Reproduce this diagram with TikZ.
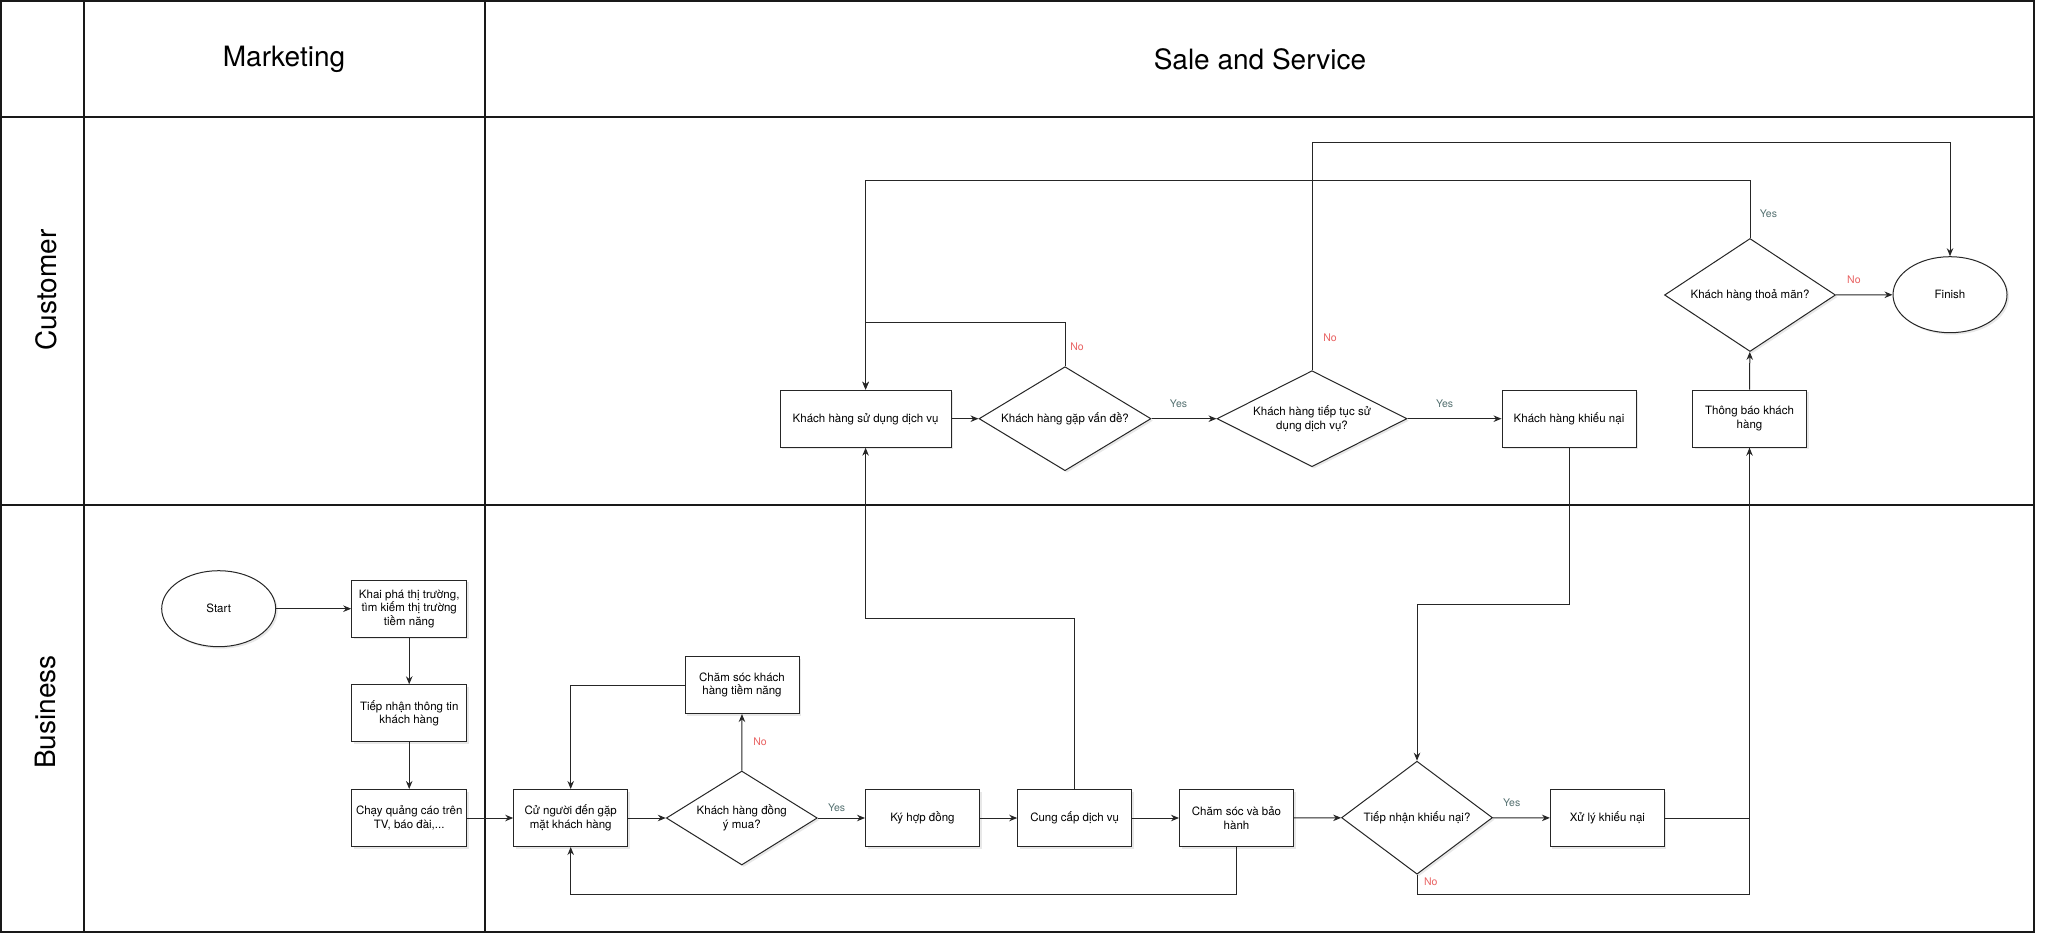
\documentclass[tikz,border=0pt]{standalone}
\usepackage{fontspec}
\setmainfont{TeX Gyre Heros}
\usetikzlibrary{shapes.geometric,arrows.meta,shadows}
\definecolor{yescol}{RGB}{84,112,112}
\definecolor{nocol}{RGB}{232,98,98}
\begin{document}
\begin{tikzpicture}[x=1pt,y=-1pt,
  lane/.style={line width=1.2pt,draw=black!90},
  box/.style={draw=black!85,line width=1pt,fill=white,minimum width=114pt,minimum height=57pt,
    inner sep=0pt,align=center,font=\fontsize{11.5}{13.5}\selectfont,
    drop shadow={opacity=0.18,shadow xshift=2pt,shadow yshift=-2pt}},
  oval/.style={box,ellipse,minimum height=76pt},
  choice/.style={box,diamond},
  flow/.style={draw=black!85,line width=1pt},
  arr/.style={flow,-{Stealth[length=8pt,width=6.5pt]}},
  head/.style={font=\fontsize{28}{32}\selectfont},
  yeslbl/.style={text=yescol,font=\fontsize{10.5}{12}\selectfont,inner sep=0pt},
  nolbl/.style={text=nocol,font=\fontsize{10.5}{12}\selectfont,inner sep=0pt}]
\useasboundingbox (0,0) rectangle (2047,944);
\draw [lane] (1,1) rectangle (2034,932);
\draw [lane] (84,1) -- (84,932);
\draw [lane] (485,1) -- (485,932);
\draw [lane] (1,117) -- (2034,117);
\draw [lane] (1,505) -- (2034,505);
\node [head] (hMkt) at (284,59) {Marketing};
\node [head] (hSale) at (1260,59) {Sale and Service};
\node [head,rotate=90] (lCust) at (46,290) {Customer};
\node [head,rotate=90] (lBus) at (46,712) {Business};
% business lane
\node [oval] (start) at (218.7,608.7) {Start};
\node [box,minimum width=115pt] (khai) at (409.2,608.7) {Khai phá thị trường,\\tìm kiếm thị trường\\tiềm năng};
\node [box,minimum width=115pt] (tiepTT) at (409.2,713.3) {Tiếp nhận thông tin\\khách hàng};
\node [box,minimum width=115pt] (chay) at (409.2,818) {Chạy quảng cáo trên\\TV, báo đài,...};
\node [box] (cuNguoi) at (570.7,818) {Cử người đến gặp\\mặt khách hàng};
\node [choice,minimum width=151pt,minimum height=94pt,aspect=1.6] (dongY) at (741.8,818) {Khách hàng đồng\\ý mua?};
\node [box] (chamTN) at (742,685) {Chăm sóc khách\\hàng tiềm năng};
\node [box] (kyHD) at (922.5,818) {Ký hợp đồng};
\node [box] (cungCap) at (1074.7,818) {Cung cấp dịch vụ};
\node [box] (chamBH) at (1236.5,818) {Chăm sóc và bảo\\hành};
\node [choice,minimum width=151pt,minimum height=113pt,aspect=1.34] (tiepKN) at (1417,817.7) {Tiếp nhận khiếu nại?};
\node [box] (xuLy) at (1607.4,818) {Xử lý khiếu nại};
% customer lane
\node [box,minimum width=171pt] (suDung) at (865.6,418.7) {Khách hàng sử dụng dịch vụ};
\node [choice,minimum width=172pt,minimum height=104pt,aspect=1.65] (gapVD) at (1065,418.7) {Khách hàng gặp vấn đề?};
\node [choice,minimum width=190pt,minimum height=96pt,aspect=2] (tiepTuc) at (1312,418.7) {Khách hàng tiếp tục sử\\dụng dịch vụ?};
\node [box,minimum width=134pt] (khieuNai) at (1569,418.7) {Khách hàng khiếu nại};
\node [box] (thongBao) at (1749.5,418.7) {Thông báo khách\\hàng};
\node [choice,minimum width=171pt,minimum height=113pt,aspect=1.5] (thoaMan) at (1750,295) {Khách hàng thoả mãn?};
\node [oval] (finish) at (1950,294.7) {Finish};
% connectors
\draw [arr] (start) -- (khai);
\draw [arr] (khai) -- (tiepTT);
\draw [arr] (tiepTT) -- (chay);
\draw [arr] (chay) -- (cuNguoi);
\draw [arr] (cuNguoi) -- (dongY);
\draw [arr] (dongY) -- (chamTN);
\draw [arr] (chamTN.west) -| (cuNguoi.north);
\draw [arr] (dongY) -- (kyHD);
\draw [arr] (kyHD) -- (cungCap);
\draw [arr] (cungCap) -- (chamBH);
\draw [arr] (cungCap.north) -- ++(0,-171) -| (suDung.south);
\draw [arr] (chamBH.south) -- ++(0,47.3) -| (cuNguoi.south);
\draw [arr] (chamBH) -- (tiepKN);
\draw [arr] (tiepKN) -- (xuLy);
\draw [arr] (xuLy.east) -| (thongBao.south);
\draw [flow] (tiepKN.south) -- ++(0,19.7) -| (thongBao.south);
\draw [arr] (khieuNai.south) -- ++(0,156.7) -| (tiepKN.north);
\draw [arr] (suDung) -- (gapVD);
\draw [arr] (gapVD.north) -- ++(0,-43.4) -| (suDung.north);
\draw [arr] (gapVD) -- (tiepTuc);
\draw [arr] (tiepTuc) -- (khieuNai);
\draw [arr] (tiepTuc.north) -- ++(0,-228) -| (finish.north);
\draw [arr] (thongBao) -- (thoaMan);
\draw [arr] (thoaMan) -- (finish);
\draw [arr] (thoaMan.north) -- ++(0,-57.3) -| (suDung.north);
% labels
\node [nolbl] (nDongY) at (760,741.7) {No};
\node [yeslbl] (yDongY) at (836.6,807.7) {Yes};
\node [nolbl] (nTiepKN) at (1430.7,881.7) {No};
\node [yeslbl] (yTiepKN) at (1511.7,802.7) {Yes};
\node [nolbl] (nGapVD) at (1077,346.7) {No};
\node [yeslbl] (yGapVD) at (1178.5,403.7) {Yes};
\node [nolbl] (nTiepTuc) at (1330,337.3) {No};
\node [yeslbl] (yTiepTuc) at (1444.6,403.7) {Yes};
\node [yeslbl] (yThoaMan) at (1768.4,214) {Yes};
\node [nolbl] (nThoaMan) at (1853.9,280) {No};
\end{tikzpicture}
\end{document}
